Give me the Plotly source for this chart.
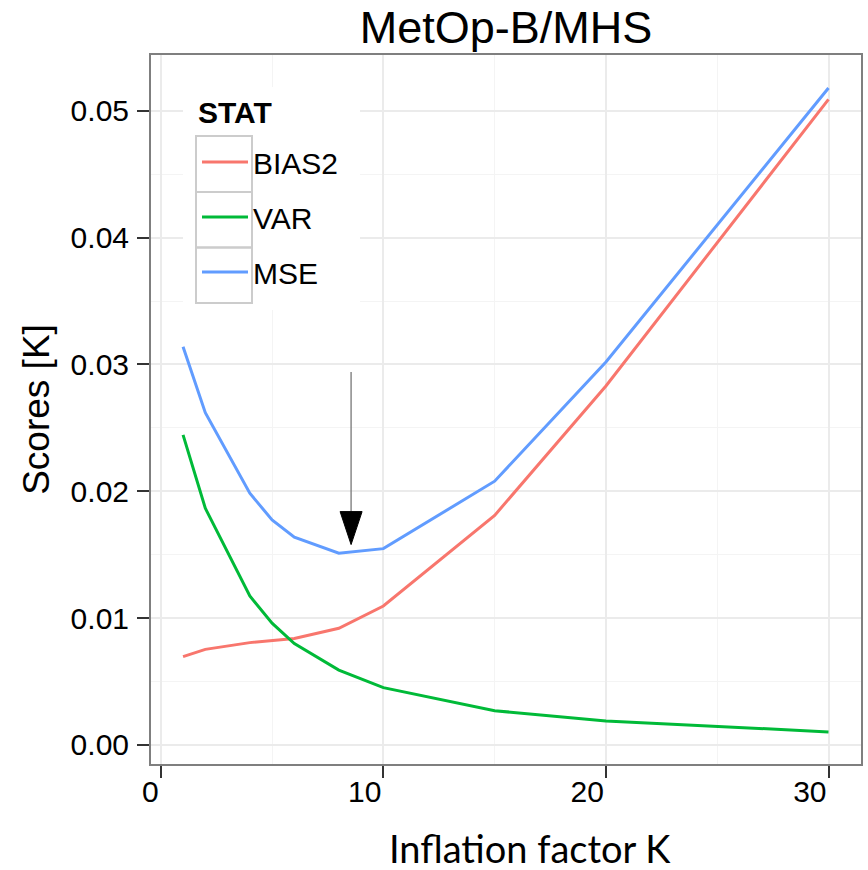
import plotly.graph_objects as go

# Inflation factor K at which each score was evaluated
inflation_k = [1, 2, 4, 5, 6, 8, 10, 15, 20, 30]

# Scores per statistic
bias2 = [0.00697, 0.00754, 0.00807, 0.00823, 0.00840, 0.00920, 0.01096, 0.01810, 0.02830, 0.05090]
var = [0.02445, 0.01866, 0.01175, 0.00960, 0.00800, 0.00590, 0.00452, 0.00270, 0.00190, 0.00103]
mse = [0.03140, 0.02620, 0.01985, 0.01774, 0.01638, 0.01512, 0.01548, 0.02080, 0.03020, 0.05180]

series_names = ["BIAS2", "VAR", "MSE"]
series_colors = ["#F8766D", "#00BA38", "#619CFF"]

x_ticks = [0, 10, 20, 30]

# Arrow pointing at the MSE minimum
arrow_x = 8.55
arrow_y_start = 0.0294
arrow_y_tip = 0.0158
head_half_width = 0.494
head_length = 0.0026

fig = go.Figure()
for i, (name, ys, col) in enumerate(zip(series_names, [bias2, var, mse], series_colors)):
    fig.add_trace(go.Scatter(
        x=inflation_k, y=ys, name=name, mode="lines",
        line=dict(color=col, width=3),
        legendgroup=name,
    ))

# Arrow shaft and head
fig.add_shape(type="line", xref="x", yref="y",
              x0=arrow_x, x1=arrow_x, y0=arrow_y_start, y1=arrow_y_tip + head_length,
              line=dict(color="#808080", width=1.4))
fig.add_shape(type="path", xref="x", yref="y",
              path=(f"M {arrow_x - head_half_width},{arrow_y_tip + head_length} "
                    f"L {arrow_x + head_half_width},{arrow_y_tip + head_length} "
                    f"L {arrow_x},{arrow_y_tip} Z"),
              fillcolor="black", line=dict(color="black", width=1))

# Legend background and key boxes
W, H = 868, 870
ml, mr, mt, mb = 151, 7, 55, 106
pw, ph = W - ml - mr, H - mt - mb


def px(x):
    return (x - ml) / pw


def py(y):
    return 1 - (y - mt) / ph


fig.add_shape(type="rect", xref="paper", yref="paper",
              x0=px(183), x1=px(360), y0=py(310), y1=py(87),
              fillcolor="white", line=dict(width=0), layer="above")
for top, bot in [(136, 192), (192, 247.5), (247.5, 303)]:
    fig.add_shape(type="rect", xref="paper", yref="paper",
                  x0=px(196), x1=px(252), y0=py(bot), y1=py(top),
                  fillcolor="rgba(0,0,0,0)", line=dict(color="#CCCCCC", width=2),
                  layer="above")

# Legend heading
fig.add_annotation(text="<b>STAT</b>", xref="paper", yref="paper",
                   x=px(196), y=py(112), xanchor="left", yanchor="middle",
                   showarrow=False,
                   font=dict(family="Liberation Sans, Arial, sans-serif", size=30, color="black"))

# x-axis title
fig.add_annotation(text="Inflation factor K", xref="paper", yref="paper",
                   x=px(530), y=py(848), xanchor="center", yanchor="middle",
                   showarrow=False,
                   font=dict(family="Lato, sans-serif", size=38, color="black"))

grid_major = "#EBEBEB"
grid_minor = "#F4F4F4"
tick_font = dict(family="Liberation Sans, Arial, sans-serif", size=30, color="black")

fig.update_layout(
    width=W, height=H,
    margin=dict(l=ml, r=mr, t=mt, b=mb),
    paper_bgcolor="white", plot_bgcolor="white",
    title=dict(text="MetOp-B/MHS", x=0.5, xref="paper", y=1 - 27 / H, yref="container",
               yanchor="middle", xanchor="center",
               font=dict(family="Liberation Sans, Arial, sans-serif", size=45, color="black")),
    showlegend=True,
    legend=dict(
        font=dict(family="Liberation Sans, Arial, sans-serif", size=30, color="black"),
        x=px(197), y=py(136), xanchor="left", yanchor="top",
        bgcolor="rgba(0,0,0,0)", borderwidth=0,
        itemwidth=46, tracegroupgap=13,
    ),
    xaxis=dict(
        range=[-0.44, 31.46], tickvals=x_ticks, ticktext=[str(v) for v in x_ticks],
        showgrid=True, gridcolor=grid_major, gridwidth=1.5,
        minor=dict(dtick=5, tick0=0, showgrid=True, gridcolor=grid_minor, gridwidth=1),
        zeroline=False, showline=True, linecolor="#7F7F7F", linewidth=2, mirror=True,
        ticks="outside", ticklen=12, tickwidth=2, tickcolor="#333333",
        tickfont=tick_font, automargin=False, ticklabelposition="outside left",
    ),
    yaxis=dict(
        range=[-0.0015, 0.0544], dtick=0.01, tick0=0, tickformat=".2f",
        showgrid=True, gridcolor=grid_major, gridwidth=1.5,
        minor=dict(dtick=0.005, tick0=0, showgrid=True, gridcolor=grid_minor, gridwidth=1),
        zeroline=False, showline=True, linecolor="#7F7F7F", linewidth=2, mirror=True,
        ticks="outside", ticklen=12, tickwidth=2, tickcolor="#333333",
        tickfont=tick_font, automargin=False, ticklabelstandoff=2,
        title=dict(text="Scores [K]", standoff=10,
                   font=dict(family="Liberation Sans, Arial, sans-serif", size=37, color="black")),
    ),
)

fig.write_html("out.html")
